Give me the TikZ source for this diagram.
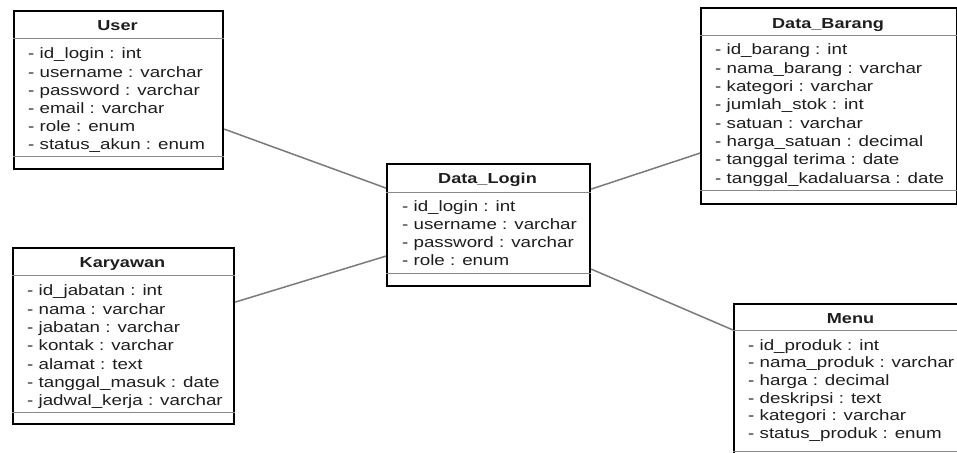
\documentclass[tikz,border=0pt]{standalone}
\usepackage{fontspec}
\setmainfont[FakeStretch=1.25]{Liberation Sans}
\definecolor{rulegray}{HTML}{8A8A8A}
\definecolor{linkgray}{HTML}{7A7A7A}
\definecolor{ink}{HTML}{1E1E1E}
\tikzset{
  classframe/.style={draw=black, line width=2.2pt, fill=white, rectangle,
    inner sep=0pt, anchor=north west},
  divider/.style={draw=rulegray, line width=0.9pt},
  classtitle/.style={font=\bfseries\fontsize{14.5}{17}\selectfont, text=ink,
    inner sep=0pt, anchor=base},
  attr/.style={font=\fontsize{15}{18}\selectfont, text=ink, inner sep=0pt,
    anchor=base west},
  assoc/.style={draw=linkgray, line width=1.5pt},
}
\begin{document}
\begin{tikzpicture}[x=1pt, y=-1pt]
\useasboundingbox (0,0) rectangle (957,452);
\clip (0,0) rectangle (957,452);

% ---- User ----
\node[classframe, minimum width=209pt, minimum height=158pt] (user) at (13,10) {};
\draw[divider] (user.west |- 0,38) -- (user.east |- 0,38);
\draw[divider] (user.west |- 0,156) -- (user.east |- 0,156);
\node[classtitle] (user-title) at (117.5,30.7) {User};
\foreach \t [count=\i from 0] in {- id\_login : int, - username : varchar,
    - password : varchar, - email : varchar, - role : enum, - status\_akun : enum}
  \node[attr] (user-a\i) at (28,{59+18*\i}) {\t};

% ---- Karyawan ----
\node[classframe, minimum width=221pt, minimum height=176pt] (karyawan) at (12,247) {};
\draw[divider] (karyawan.west |- 0,275) -- (karyawan.east |- 0,275);
\draw[divider] (karyawan.west |- 0,412) -- (karyawan.east |- 0,412);
\node[classtitle] (karyawan-title) at (122.5,267.3) {Karyawan};
\foreach \t [count=\i from 0] in {- id\_jabatan : int, - nama : varchar,
    - jabatan : varchar, - kontak : varchar, - alamat : text,
    - tanggal\_masuk : date, - jadwal\_kerja : varchar}
  \node[attr] (karyawan-a\i) at (27,{295.7+18.33*\i}) {\t};

% ---- Data_Login ----
\node[classframe, minimum width=203pt, minimum height=122pt] (login) at (386,163) {};
\draw[divider] (login.west |- 0,192) -- (login.east |- 0,192);
\draw[divider] (login.west |- 0,273) -- (login.east |- 0,273);
\node[classtitle] (login-title) at (487.5,183.3) {Data\_Login};
\foreach \t [count=\i from 0] in {- id\_login : int, - username : varchar,
    - password : varchar, - role : enum}
  \node[attr] (login-a\i) at (402,{211.7+17.8*\i}) {\t};

% ---- Data_Barang ----
\node[classframe, minimum width=255.5pt, minimum height=196pt] (barang) at (700,7) {};
\draw[divider] (barang.west |- 0,35) -- (barang.east |- 0,35);
\draw[divider] (barang.west |- 0,190) -- (barang.east |- 0,190);
\node[classtitle] (barang-title) at (828,28.3) {Data\_Barang};
\foreach \t [count=\i from 0] in {- id\_barang : int, - nama\_barang : varchar,
    - kategori : varchar, - jumlah\_stok : int, - satuan : varchar,
    - harga\_satuan : decimal, - tanggal terima : date,
    - tanggal\_kadaluarsa : date}
  \node[attr] (barang-a\i) at (715,{55+18.33*\i}) {\t};

% ---- Menu (runs past the lower right edge) ----
\node[classframe, minimum width=235pt, minimum height=170pt] (menu) at (733,303) {};
\draw[divider] (menu.west |- 0,330) -- (menu.east |- 0,330);
\draw[divider] (menu.west |- 0,451.5) -- (menu.east |- 0,451.5);
\node[classtitle] (menu-title) at (850.5,323.3) {Menu};
\foreach \t [count=\i from 0] in {- id\_produk : int, - nama\_produk : varchar,
    - harga : decimal, - deskripsi : text, - kategori : varchar,
    - status\_produk : enum}
  \node[attr] (menu-a\i) at (748,{350+17.67*\i}) {\t};

% ---- associations ----
\draw[assoc] ([yshift=-39pt]user.east) -- ([yshift=37pt]login.west);
\draw[assoc] ([yshift=34pt]karyawan.east) -- ([yshift=-31pt]login.west);
\draw[assoc] ([yshift=36pt]login.east) -- ([yshift=-47pt]barang.west);
\draw[assoc] ([yshift=-44pt]login.east) -- ([yshift=-27pt]menu.north west);
\end{tikzpicture}
\end{document}
